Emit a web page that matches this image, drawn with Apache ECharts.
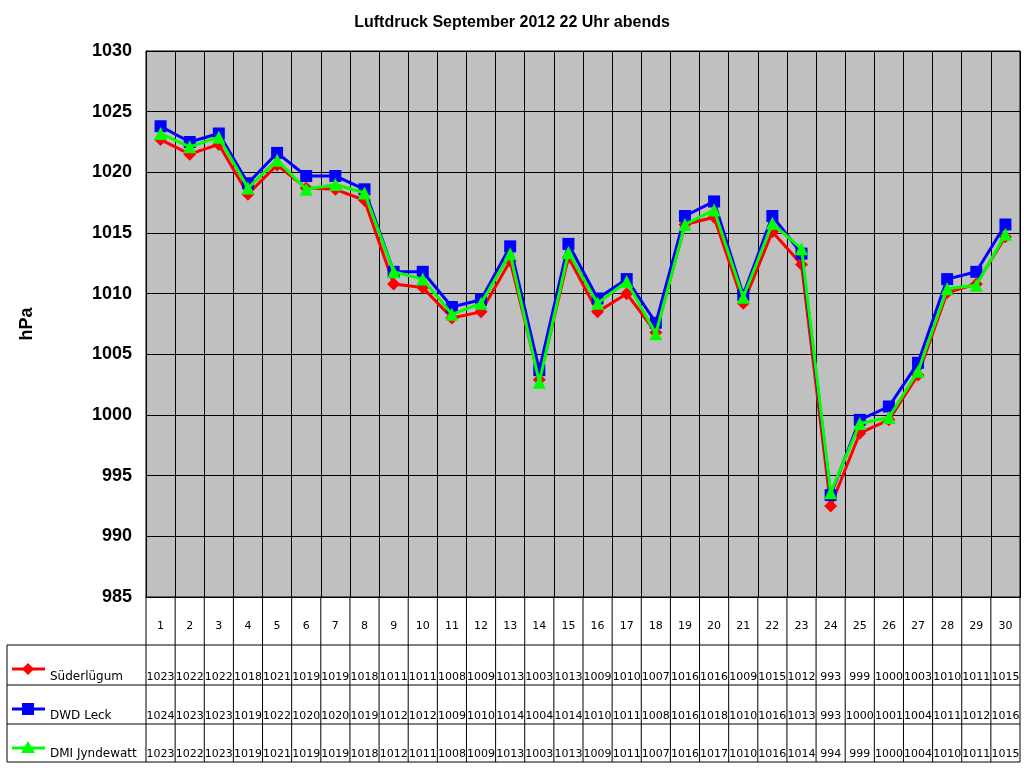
<!DOCTYPE html>
<html><head><meta charset="utf-8">
<script src="https://cdn.jsdelivr.net/npm/echarts@6/dist/echarts.min.js"></script>
<style>html,body{margin:0;padding:0;background:#fff}#c{width:1024px;height:768px}</style>
</head><body><div id="c"></div>
<script>
const days = ['1','2','3','4','5','6','7','8','9','10','11','12','13','14','15','16','17','18','19','20','21','22','23','24','25','26','27','28','29','30'];
const suederluegum = [1022.7,1021.5,1022.3,1018.2,1020.6,1018.7,1018.6,1017.7,1010.8,1010.5,1008.0,1008.5,1012.7,1002.9,1013.0,1008.5,1010.0,1006.8,1015.7,1016.3,1009.2,1015.1,1012.4,992.5,998.5,999.6,1003.3,1010.1,1010.8,1014.7];
const dwdLeck = [1023.8,1022.5,1023.2,1019.1,1021.6,1019.7,1019.7,1018.6,1011.8,1011.8,1008.9,1009.5,1013.9,1003.7,1014.1,1009.6,1011.2,1007.6,1016.4,1017.6,1009.9,1016.4,1013.3,993.4,999.6,1000.7,1004.3,1011.2,1011.8,1015.7];
const dmiJyndewatt = [1023.2,1022.1,1022.9,1018.7,1021.0,1018.6,1019.0,1018.3,1011.8,1011.2,1008.3,1009.2,1013.3,1002.7,1013.4,1009.2,1011.0,1006.7,1015.7,1016.9,1009.7,1015.8,1013.7,993.6,999.3,999.8,1003.6,1010.4,1010.7,1014.9];
const seriesNames = ['Süderlügum','DWD Leck','DMI Jyndewatt'];
const colors = ['#ff0000','#0000ff','#00ff00'];
const symbols = ['diamond','rect','triangle'];
const allData = [suederluegum, dwdLeck, dmiJyndewatt];

const chart = echarts.init(document.getElementById('c'));
const font = 'Arial, "Liberation Sans", sans-serif';
const tfont = '"DejaVu Sans", Verdana, sans-serif';
const gridLeft = 146, gridRight = 4, gridTop = 51, gridBottom = 171;
chart.setOption({
  animation:false,
  title:{text:'Luftdruck September 2012 22 Uhr abends',left:'center',top:10,
    textStyle:{fontFamily:font,fontSize:16,fontWeight:'bold',color:'#000'}},
  grid:{left:gridLeft,right:gridRight,top:gridTop,bottom:gridBottom,show:true,backgroundColor:'#c0c0c0',borderColor:'#000',borderWidth:1},
  xAxis:{type:'category',data:days,boundaryGap:true,
    axisLine:{lineStyle:{color:'#000'}},axisTick:{show:false},
    axisLabel:{margin:24,fontFamily:tfont,fontSize:11,color:'#000'},
    splitLine:{show:true,interval:0,lineStyle:{color:'#000',width:1}}},
  yAxis:{type:'value',min:985,max:1030,interval:5,
    name:'hPa',nameLocation:'middle',nameGap:110,nameRotate:90,
    nameTextStyle:{fontFamily:font,fontSize:18,fontWeight:'bold',color:'#000'},
    axisLine:{show:true,lineStyle:{color:'#000'}},axisTick:{show:false},
    axisLabel:{fontFamily:font,fontSize:18,fontWeight:'bold',color:'#000',margin:14,formatter:v=>String(v)},
    splitLine:{lineStyle:{color:'#000',width:1}}},
  series: allData.map((d,i)=>({name:seriesNames[i],type:'line',data:d,
    symbol:symbols[i],symbolSize:i===1?12:13,showAllSymbol:true,
    lineStyle:{color:colors[i],width:3},itemStyle:{color:colors[i]},z:2+i}))
});

const els = [];
const x0 = 7, xr = 1020, colL = gridLeft;
const rowY = [597, 645, 685, 724, 762];
const colW = (1024-gridLeft-gridRight)/days.length;
for (let k=0;k<=days.length;k++){
  const x = colL + k*colW;
  els.push({type:'line',shape:{x1:x,y1:597,x2:x,y2:762},style:{stroke:'#000',lineWidth:1}});
}
els.push({type:'line',shape:{x1:x0,y1:645,x2:x0,y2:762},style:{stroke:'#000',lineWidth:1}});
for (let r=1;r<rowY.length;r++){
  els.push({type:'line',shape:{x1:x0,y1:rowY[r],x2:xr,y2:rowY[r]},style:{stroke:'#000',lineWidth:1}});
}
allData.forEach((d,i)=>{
  const yb = rowY[i+2]-2;
  const sx = 28, sy = rowY[i+1]+24;
  els.push({type:'line',shape:{x1:12,y1:sy,x2:45,y2:sy},style:{stroke:colors[i],lineWidth:3}});
  if (i===0) els.push({type:'polygon',shape:{points:[[sx,sy-6],[sx+6,sy],[sx,sy+6],[sx-6,sy]]},style:{fill:colors[i]}});
  if (i===1) els.push({type:'rect',shape:{x:sx-6,y:sy-6,width:12,height:12},style:{fill:colors[i]}});
  if (i===2) els.push({type:'polygon',shape:{points:[[sx,sy-7],[sx+7,sy+5],[sx-7,sy+5]]},style:{fill:colors[i]}});
  els.push({type:'text',style:{text:seriesNames[i],x:50,y:yb,textVerticalAlign:'bottom',font:'12px '+tfont,fill:'#000'}});
  d.forEach((v,k)=>{
    const cx = chart.convertToPixel({xAxisIndex:0}, days[k]);
    els.push({type:'text',style:{text:String(Math.round(v)),x:cx,y:yb,textAlign:'center',textVerticalAlign:'bottom',font:'11px '+tfont,fill:'#000'}});
  });
});
chart.setOption({graphic:{elements:els}});
</script></body></html>
